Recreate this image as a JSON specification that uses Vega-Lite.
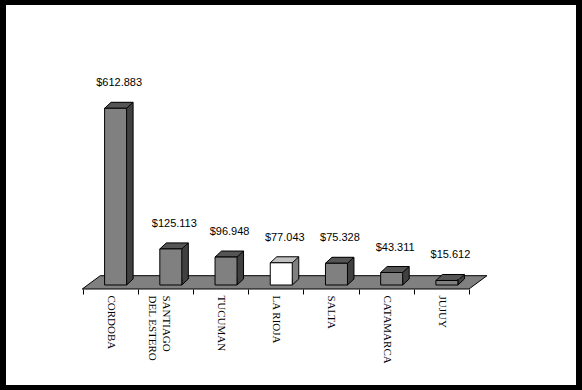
{
  "$schema": "https://vega.github.io/schema/vega-lite/v6.json",
  "width": 570,
  "height": 380,
  "autosize": {"type": "none"},
  "padding": {"left": 6, "top": 5, "right": 6, "bottom": 5},
  "background": "black",
  "config": {
    "view": {"fill": "white", "stroke": null},
    "locale": {"number": {"decimal": ",", "thousands": ".", "grouping": [3], "currency": ["$", ""]}}
  },
  "data": {
    "values": [
      {"provincia": "CORDOBA", "monto": 612883},
      {"provincia": "SANTIAGO DEL ESTERO", "monto": 125113},
      {"provincia": "TUCUMAN", "monto": 96948},
      {"provincia": "LA RIOJA", "monto": 77043},
      {"provincia": "SALTA", "monto": 75328},
      {"provincia": "CATAMARCA", "monto": 43311},
      {"provincia": "JUJUY", "monto": 15612}
    ]
  },
  "encoding": {
    "x": {
      "field": "provincia",
      "type": "nominal",
      "sort": null,
      "title": null,
      "scale": {
        "type": "band",
        "domain": ["CORDOBA", "SANTIAGO DEL ESTERO", "TUCUMAN", "LA RIOJA", "SALTA", "CATAMARCA", "JUJUY"],
        "range": [76.5, 463],
        "paddingInner": 0,
        "paddingOuter": 0
      },
      "axis": {
        "title": null,
        "domain": false,
        "grid": false,
        "ticks": true,
        "tickBand": "extent",
        "tickColor": "black",
        "tickSize": 5,
        "tickWidth": 1,
        "labelAngle": 90,
        "labelFont": "Liberation Serif",
        "labelFontSize": 11,
        "labelColor": "black",
        "labelPadding": 1,
        "labelLineHeight": 14,
        "labelOverlap": false,
        "labelLimit": 0,
        "offset": -96,
        "labelExpr": "datum.value == 'SANTIAGO DEL ESTERO' ? ['SANTIAGO', 'DEL ESTERO'] : datum.value"
      }
    },
    "y": {
      "field": "monto",
      "type": "quantitative",
      "scale": {"domain": [0, 900000], "range": [280, 20.5]},
      "axis": null
    }
  },
  "layer": [
    {
      "transform": [{"filter": "datum.provincia == 'LA RIOJA'"}],
      "mark": {"type": "point", "shape": "M -193.5 4 L -175.5 -9.3 L 211.2 -9.3 L 193.2 4 Z", "size": 4, "filled": true, "fill": "#808080", "stroke": "black", "strokeWidth": 1, "opacity": 1},
      "encoding": {"y": {"datum": 0, "type": "quantitative", "axis": null}}
    },
    {
      "mark": {"type": "bar", "width": 22, "xOffset": 12, "yOffset": -6, "y2Offset": -6, "strokeWidth": 0},
      "encoding": {
        "y2": {"datum": 0},
        "fill": {"condition": {"test": "datum.provincia == 'LA RIOJA'", "value": "#808080"}, "value": "#404040"}
      }
    },
    {
      "mark": {"type": "point", "shape": "M -5.5 0 L 1 -6 L 23 -6 L 16.5 0 Z", "size": 4, "filled": true, "stroke": "black", "strokeWidth": 1, "opacity": 1},
      "encoding": {
        "fill": {"condition": {"test": "datum.provincia == 'LA RIOJA'", "value": "#c0c0c0"}, "value": "#555555"}
      }
    },
    {
      "mark": {"type": "point", "shape": "M 16.5 -6 L 16.5 0 L 23 -6", "size": 4, "filled": true, "stroke": "black", "strokeWidth": 1, "opacity": 1},
      "encoding": {
        "y": {"datum": 0, "type": "quantitative", "axis": null},
        "fill": {"condition": {"test": "datum.provincia == 'LA RIOJA'", "value": "#808080"}, "value": "#404040"}
      }
    },
    {
      "mark": {"type": "rule", "xOffset": 23, "yOffset": -6, "y2Offset": -6, "color": "black", "strokeWidth": 1},
      "encoding": {"y2": {"datum": 0}}
    },
    {
      "mark": {"type": "bar", "width": 22, "xOffset": 5.5, "stroke": "black", "strokeWidth": 1},
      "encoding": {
        "y2": {"datum": 0},
        "fill": {"condition": {"test": "datum.provincia == 'LA RIOJA'", "value": "white"}, "value": "#808080"}
      }
    },
    {
      "mark": {"type": "text", "dx": 9, "dy": -25, "font": "Liberation Sans", "fontSize": 11, "color": "black", "align": "center", "baseline": "middle"},
      "encoding": {"text": {"field": "monto", "type": "quantitative", "format": "$,.0f"}}
    }
  ]
}
